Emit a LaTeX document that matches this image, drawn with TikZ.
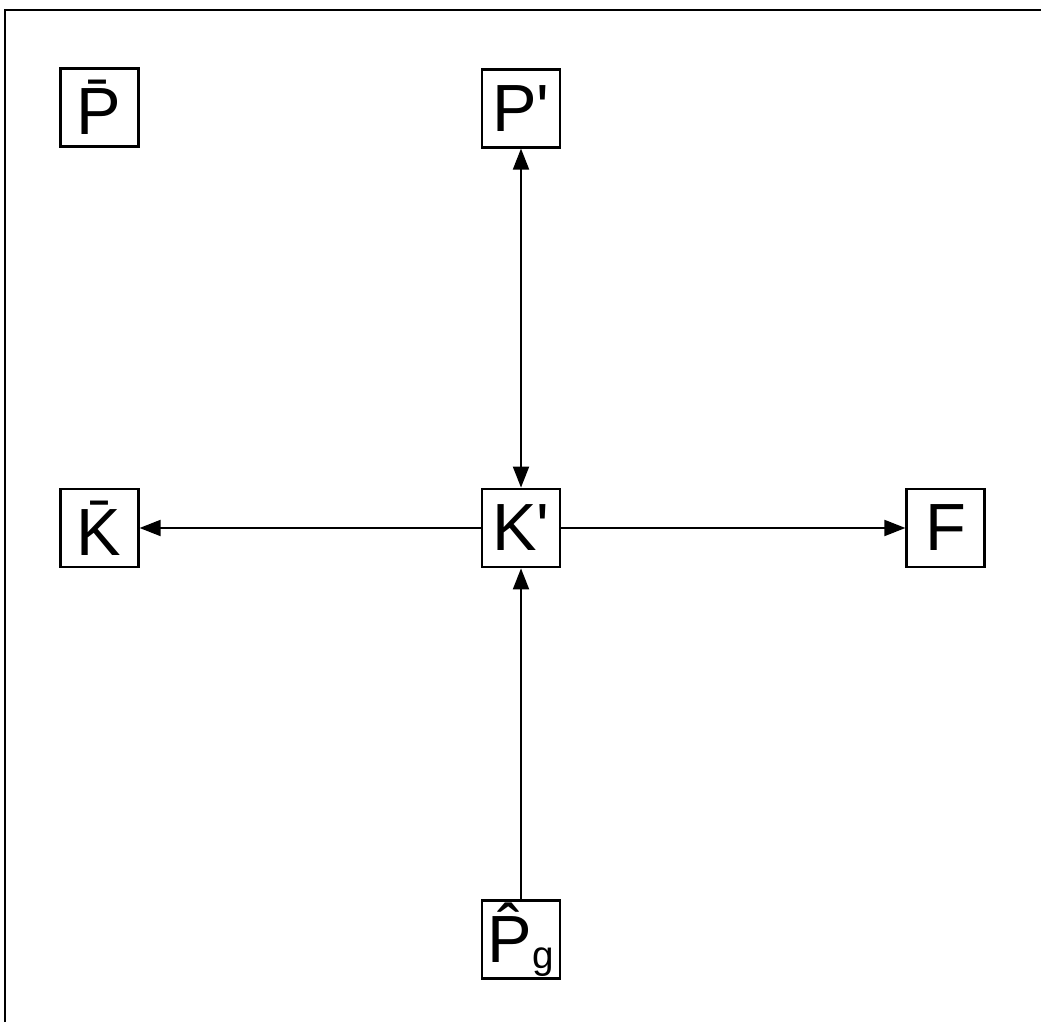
\documentclass[tikz,border=0pt]{standalone}
\usepackage{fontspec}
\setmainfont{Liberation Sans}
\usepackage{tikz}
\usetikzlibrary{positioning, arrows.meta}

\begin{document}
\begin{tikzpicture}[
    >={Triangle[length=0.42cm, width=0.32cm]},
    % Styles
    block_box/.style={rectangle, draw=black, line width=1.6pt, minimum size=1.56cm, inner sep=0pt, font=\fontsize{38}{38}\selectfont},
    flow/.style={line width=1.1pt}
]
    \useasboundingbox (0,0) rectangle (20.82,20.44);

    % 1. THE FRAME
    \draw[line width=1.6pt] (0.1,0) -- (0.1,20.24) -- (20.82,20.24);

    % 2. THE CENTRE BLOCK
    \node[block_box] (kprime) at (10.42, 9.88) {K\textquotesingle};

    % 3. THE OUTER BLOCKS
    \node[block_box, above=6.78cm of kprime] (pprime) {P\textquotesingle};
    \node[block_box, left=6.82cm of kprime] (kbar) {\={K}};
    \node[block_box, right=6.88cm of kprime] (fbox) {F};
    \node[block_box, below=6.62cm of kprime] (phat) {\^{P}\raisebox{-0.12cm}{\fontsize{22}{22}\selectfont g}};
    \node[block_box, above=6.80cm of kbar] (pbar) {\={P}};

    % 4. THE CONNECTORS
    \draw[flow, <->] (pprime) -- (kprime);
    \draw[flow, ->] (kprime) -- (kbar);
    \draw[flow, ->] (kprime) -- (fbox);
    \draw[flow, ->] (phat) -- (kprime);

\end{tikzpicture}
\end{document}
